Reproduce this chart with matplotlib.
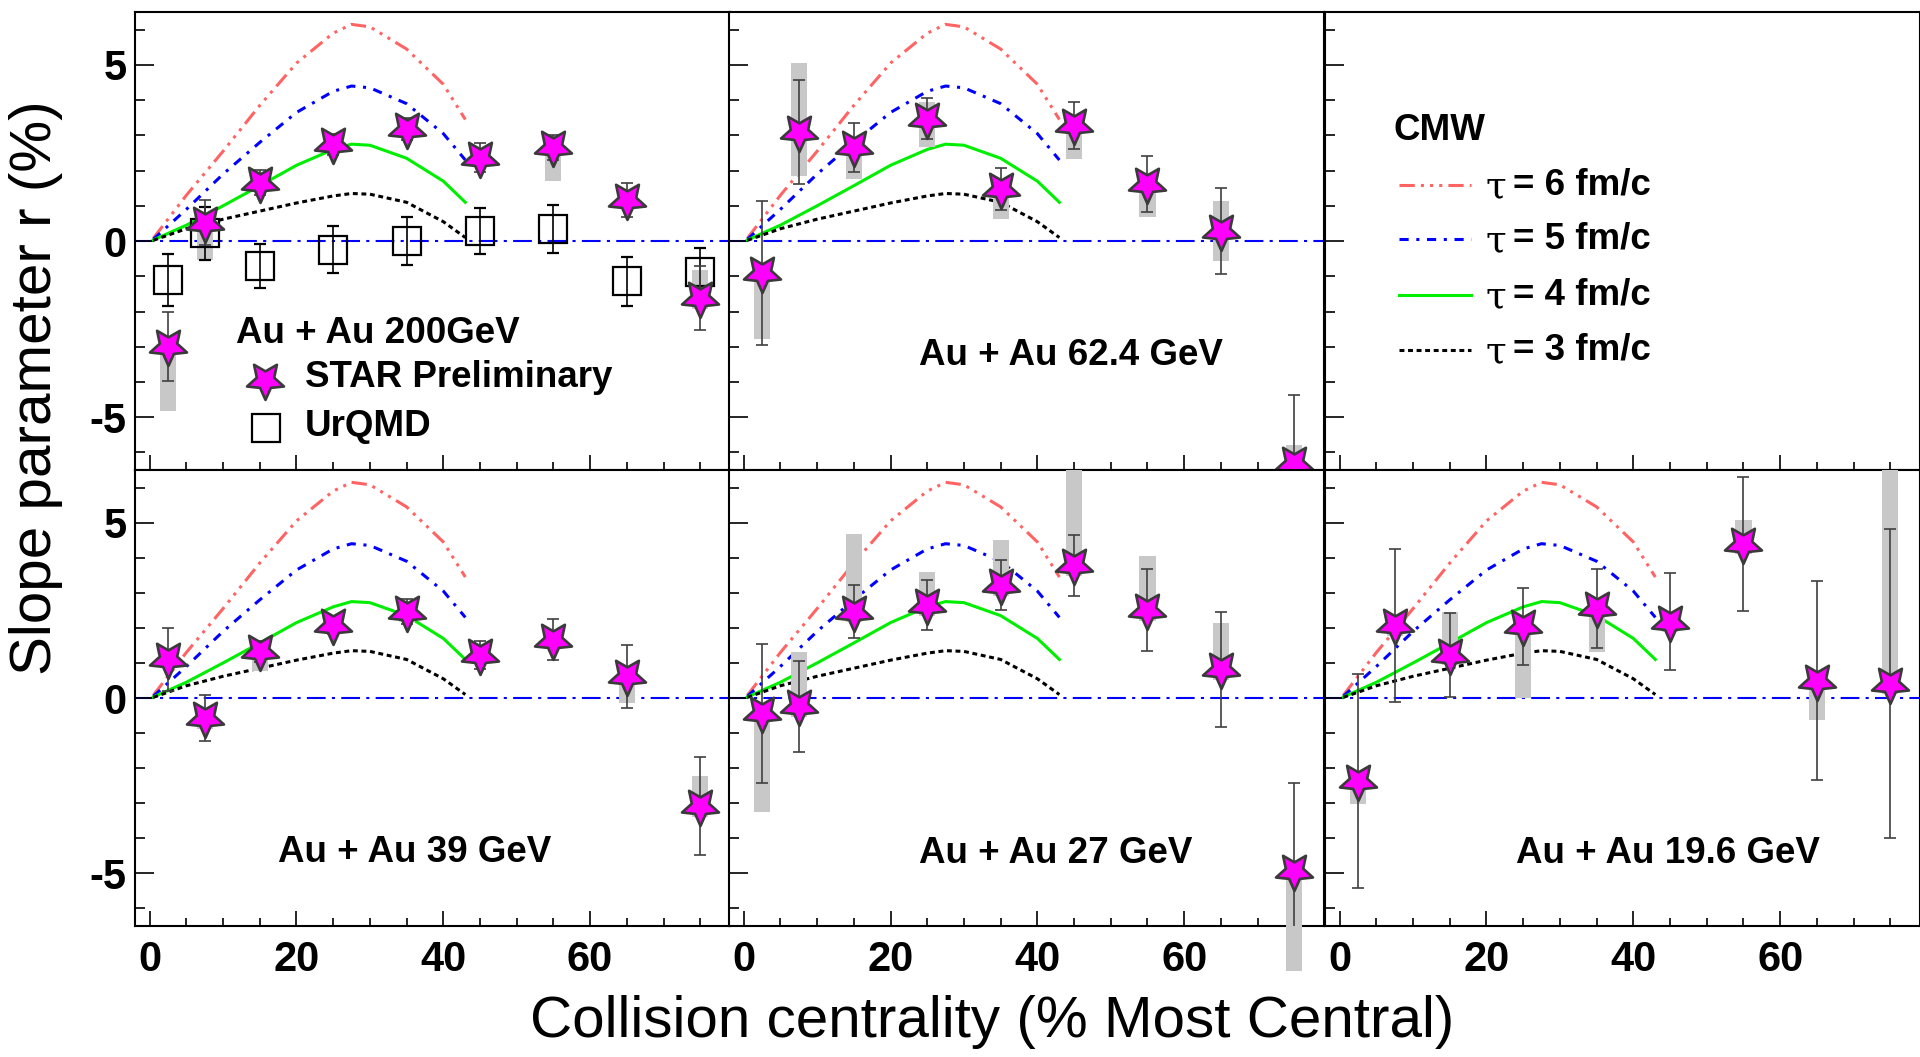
import numpy as np
import matplotlib
matplotlib.use("Agg")
import matplotlib.pyplot as plt
from matplotlib.path import Path
from matplotlib.transforms import Affine2D
from matplotlib.patches import Rectangle
from matplotlib.ticker import MultipleLocator

plt.rcParams['font.family'] = ['Liberation Sans', 'DejaVu Sans']

# centrality bins (%)
cent = [2.5, 7.5, 15, 25, 35, 45, 55, 65, 75]

# STAR preliminary slope r (%) : value, stat error, sys down, sys up
r200 = [-2.99, 0.52, 1.66, 2.75, 3.18, 2.37, 2.66, 1.16, -1.62]
stat200 = [0.98, 0.64, 0.35, 0.30, 0.30, 0.40, 0.35, 0.48, 0.91]
sys_lo200 = [1.83, 1.06, 0.20, 0.20, 0.20, 0.20, 0.95, 0.20, 0.30]
sys_hi200 = [0.30, 0.20, 0.20, 0.20, 0.20, 0.20, 0.20, 0.20, 0.79]

r62 = [-0.90, 3.09, 2.66, 3.47, 1.47, 3.28, 1.62, 0.28, -6.30]
stat62 = [2.04, 1.48, 0.70, 0.58, 0.59, 0.66, 0.80, 1.22, 1.93]
sys_lo62 = [1.87, 1.24, 0.90, 0.81, 0.85, 0.95, 0.94, 0.86, 0.20]
sys_hi62 = [0.30, 1.96, 0.20, 0.47, 0.30, 0.30, 0.30, 0.86, 0.50]

r39 = [1.11, -0.57, 1.33, 2.08, 2.46, 1.23, 1.66, 0.62, -3.08]
stat39 = [0.90, 0.65, 0.30, 0.25, 0.35, 0.40, 0.58, 0.90, 1.39]
sys_lo39 = [0.20, 0.30, 0.57, 0.20, 0.30, 0.20, 0.20, 0.76, 0.30]
sys_hi39 = [0.20, 0.30, 0.20, 0.20, 0.30, 0.20, 0.20, 0.20, 0.85]

r27 = [-0.43, -0.24, 2.46, 2.65, 3.22, 3.79, 2.51, 0.82, -4.92]
stat27 = [1.98, 1.31, 0.75, 0.71, 0.71, 0.87, 1.17, 1.64, 2.49]
sys_lo27 = [2.81, 0.30, 0.30, 0.30, 0.30, 0.30, 0.30, 0.30, 2.86]
sys_hi27 = [0.30, 1.54, 2.21, 0.95, 1.28, 2.71, 1.54, 1.31, 0.30]

r19 = [-2.37, 2.08, 1.23, 2.04, 2.56, 2.18, 4.40, 0.50, 0.41]
stat19 = [3.05, 2.18, 1.19, 1.09, 1.13, 1.39, 1.91, 2.85, 4.40]
sys_lo19 = [0.64, 0.30, 0.30, 2.04, 1.26, 0.30, 0.30, 1.12, 0.30]
sys_hi19 = [0.30, 0.30, 1.23, 0.30, 0.30, 0.30, 0.69, 0.30, 6.09]

# UrQMD at 200 GeV
urqmd200 = [-1.11, 0.22, -0.71, -0.24, 0.00, 0.28, 0.33, -1.14, -0.87]
urqmd_err = [0.74, 0.76, 0.62, 0.66, 0.69, 0.66, 0.68, 0.70, 0.68]

# CMW calculations (same in every panel)
cmw_x = [0.5, 5, 10, 15, 20, 25, 27.5, 30, 35, 40, 43]
cmw6 = [0.08, 1.30, 2.55, 3.85, 5.05, 5.90, 6.15, 6.08, 5.45, 4.45, 3.45]
cmw5 = [0.05, 0.90, 1.90, 2.80, 3.65, 4.25, 4.40, 4.35, 3.90, 3.05, 2.30]
cmw4 = [0.03, 0.45, 1.00, 1.57, 2.15, 2.60, 2.75, 2.72, 2.35, 1.70, 1.10]
cmw3 = [0.02, 0.35, 0.62, 0.85, 1.08, 1.28, 1.35, 1.33, 1.10, 0.55, 0.10]

cmw_labels = ["6", "5", "4", "3"]

panels = [
    ("Au + Au 200GeV", r200, stat200, sys_lo200, sys_hi200, (0.170, 0.299)),
    ("Au + Au 62.4 GeV", r62, stat62, sys_lo62, sys_hi62, (0.319, 0.251)),
    None,
    ("Au + Au 39 GeV", r39, stat39, sys_lo39, sys_hi39, (0.241, 0.162)),
    ("Au + Au 27 GeV", r27, stat27, sys_lo27, sys_hi27, (0.320, 0.160)),
    ("Au + Au 19.6 GeV", r19, stat19, sys_lo19, sys_hi19, (0.322, 0.160)),
]

styles = [
    ("#ff6464", (0, (5, 2, 1, 2, 1, 2, 1, 2))),
    ("#0000ff", (0, (3, 2.5, 1, 2.5))),
    ("#00ee00", "-"),
    ("#000000", (0, (1.6, 1.2))),
]
cmw_curves = [cmw6, cmw5, cmw4, cmw3]

star = Path.unit_regular_star(5, 0.47).transformed(Affine2D().rotate_deg(180))
star_kw = dict(marker=star, markersize=28, markerfacecolor="#ff00ff",
               markeredgecolor="#3a3a3a", markeredgewidth=1.9, linestyle="none")

fig = plt.figure(figsize=(19.2, 10.57), dpi=100)
lefts = [0.0703, 0.3797, 0.6901]
rows = [(0.5553, 0.4333), (0.1239, 0.4314)]
width = 0.3097

axes = []
for i in range(6):
    b, h = rows[i // 3]
    ax = fig.add_axes([lefts[i % 3], b, width, h])
    ax.set_xlim(-2, 79)
    ax.set_ylim(-6.5, 6.5)
    ax.xaxis.set_major_locator(MultipleLocator(20))
    ax.xaxis.set_minor_locator(MultipleLocator(5))
    ax.yaxis.set_major_locator(MultipleLocator(5))
    ax.yaxis.set_minor_locator(MultipleLocator(1))
    ax.tick_params(axis="y", which="major", direction="in", length=14, width=1.2, pad=6)
    ax.tick_params(axis="y", which="minor", direction="in", length=7, width=1.2)
    ax.tick_params(axis="x", which="major", direction="in", length=11, width=1.2, pad=10)
    ax.tick_params(axis="x", which="minor", direction="in", length=6, width=1.2)
    ax.tick_params(labelsize=30)
    for sp in ax.spines.values():
        sp.set_linewidth(1.5)
    if i % 3 != 0:
        ax.tick_params(axis="y", labelleft=False)
    if i < 3:
        ax.tick_params(axis="x", labelbottom=False)
    ax.set_yticks([-5, 0, 5])
    ax.set_yticklabels(["-5", "0", "5"], fontweight="bold")
    ax.set_xticks([0, 20, 40, 60])
    ax.set_xticklabels(["0", "20", "40", "60"], fontweight="bold")
    axes.append(ax)

for i, p in enumerate(panels):
    if p is None:
        continue
    ax = axes[i]
    title, r, st, slo, shi, tpos = p
    ax.axhline(0, color="#0000ff", lw=1.5, linestyle=(0, (9, 3, 1.5, 3)), zorder=1)
    for (col, ls), yv in zip(styles, cmw_curves):
        ax.plot(cmw_x, yv, color=col, lw=2.2, linestyle=ls, zorder=2)
    for x, y, lo, hi in zip(cent, r, slo, shi):
        ax.add_patch(Rectangle((x - 1.1, y - lo), 2.2, lo + hi, facecolor="#c8c8c8",
                               edgecolor="none", zorder=3, clip_on=False))
    if i == 0:
        ax.errorbar(cent, urqmd200, yerr=urqmd_err, fmt="s", markersize=19.5,
                    markerfacecolor="none", markeredgecolor="black", markeredgewidth=1.6,
                    ecolor="black", elinewidth=1.2, capsize=4, capthick=1.2, zorder=4)
    ax.errorbar(cent, r, yerr=st, fmt="none", ecolor="#404040", elinewidth=1.2,
                capsize=4, capthick=1.2, zorder=5)
    ax.plot(cent, r, zorder=6, **star_kw)
    ax.text(tpos[0], tpos[1], title, transform=ax.transAxes, fontsize=26.5,
            fontweight="bold", ha="left", va="center")

# legend of the 200 GeV panel
ax = axes[0]
ax.plot([0.219], [0.197], transform=ax.transAxes, clip_on=False, **star_kw)
ax.plot([0.221], [0.092], transform=ax.transAxes, marker="s", markersize=19.5,
        markerfacecolor="none", markeredgecolor="black", markeredgewidth=1.6, linestyle="none")
ax.text(0.286, 0.203, "STAR Preliminary", transform=ax.transAxes, fontsize=26.5,
        fontweight="bold", ha="left", va="center")
ax.text(0.286, 0.094, "UrQMD", transform=ax.transAxes, fontsize=26.5,
        fontweight="bold", ha="left", va="center")

# legend of the CMW curves
ax = axes[2]
ax.text(0.1155, 0.742, "CMW", transform=ax.transAxes, fontsize=26.5,
        fontweight="bold", ha="left", va="center")
row_y = [0.622, 0.504, 0.382, 0.262]
for (col, ls), lab, yy in zip(styles, cmw_labels, row_y):
    ax.plot([0.124, 0.245], [yy, yy], transform=ax.transAxes, color=col, lw=2.2, linestyle=ls)
    ax.text(0.270, yy - 0.005, "τ", transform=ax.transAxes, fontsize=27,
            family="DejaVu Serif", ha="left", va="center")
    ax.text(0.317, yy, "= " + lab + " fm/c", transform=ax.transAxes, fontsize=26.5,
            fontweight="bold", ha="left", va="center")

fig.text(0.019, 0.633, "Slope parameter r (%)", rotation=90, fontsize=42,
         ha="center", va="center")
fig.text(0.5167, 0.033, "Collision centrality (% Most Central)", fontsize=42,
         ha="center", va="center")

fig.savefig("out.png", dpi=100)
